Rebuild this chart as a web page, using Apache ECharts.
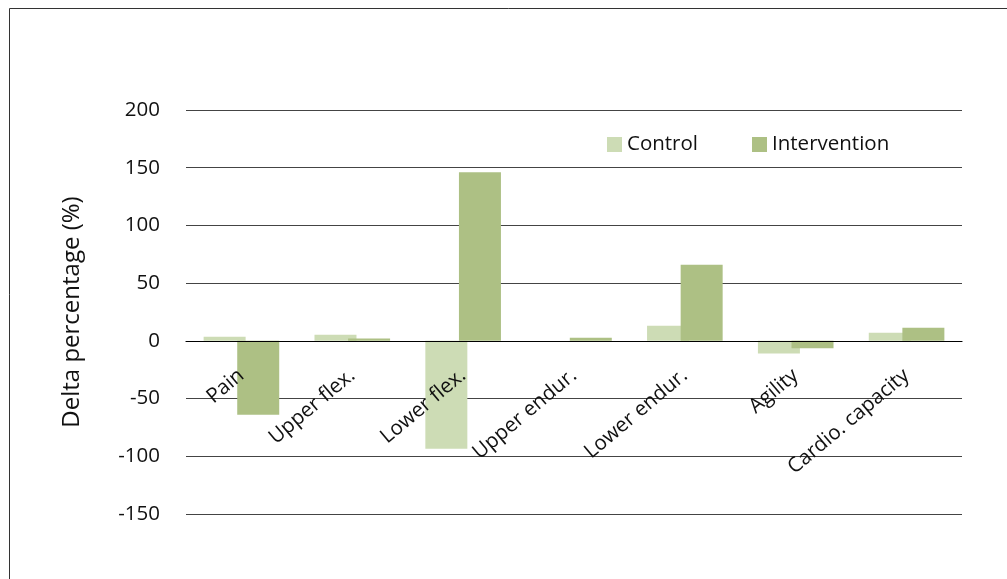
<!DOCTYPE html>
<html>
<head>
<meta charset="utf-8">
<script src="https://cdn.jsdelivr.net/npm/echarts@6/dist/echarts.min.js"></script>
<style>
html,body{margin:0;padding:0;background:#fff;}
#chart{width:1007px;height:579px;}
</style>
</head>
<body>
<div id="chart"></div>
<script>
const categories = ['Pain', 'Upper flex.', 'Lower flex.', 'Upper endur.', 'Lower endur.', 'Agility', 'Cardio. capacity'];
const controlValues = [3.5, 5.2, -93.5, 0, 13, -11, 7];
const interventionValues = [-64, 2, 146, 2.6, 66, -6.5, 11.3];
const yTicks = { min: -150, max: 200, interval: 50 };
const seriesNames = ['Control', 'Intervention'];

const FONT = '"Open Sans", sans-serif';
const GRID = { left: 186, right: 45, top: 110, bottom: 65 };
const chart = echarts.init(document.getElementById('chart'));
chart.setOption({
  animation: false,
  backgroundColor: '#ffffff',
  graphic: [{
    type: 'rect', silent: true, z: -10,
    shape: { x: 9.5, y: 8.5, width: 1200, height: 800 },
    style: { fill: 'none', stroke: '#333333', lineWidth: 1 }
  }],
  grid: Object.assign({ containLabel: false, outerBoundsMode: 'none' }, GRID),
  legend: {
    data: seriesNames,
    left: 602, top: 129,
    itemWidth: 15, itemHeight: 15, itemGap: 54,
    icon: 'rect',
    textStyle: { fontFamily: FONT, fontSize: 20.5, color: '#111' }
  },
  xAxis: {
    type: 'category',
    data: categories,
    position: 'bottom',
    offset: 0,
    z: 5,
    axisLine: { onZero: false, lineStyle: { color: '#000', width: 1.2 } },
    axisTick: { show: false },
    axisLabel: {
      interval: 0, rotate: 40, margin: 32, hideOverlap: false,
      fontFamily: FONT, fontSize: 20.5, color: '#111'
    }
  },
  yAxis: {
    type: 'value',
    min: yTicks.min, max: yTicks.max, interval: yTicks.interval,
    name: 'Delta percentage (%)',
    nameLocation: 'middle', nameGap: 102, nameRotate: 90,
    nameTextStyle: { fontFamily: FONT, fontSize: 24, color: '#111' },
    axisLine: { show: false },
    axisTick: { show: false },
    axisLabel: { fontFamily: FONT, fontSize: 20.5, color: '#111', margin: 26 },
    splitLine: { lineStyle: { color: '#444', width: 1 } }
  },
  series: [
    {
      name: seriesNames[0], type: 'bar', data: controlValues,
      barWidth: 42, barGap: '-20%',
      itemStyle: { color: '#cddcb5' }, z: 2
    },
    {
      name: seriesNames[1], type: 'bar', data: interventionValues,
      barWidth: 42,
      itemStyle: { color: '#adc084' }, z: 3
    }
  ]
});
// Move the category axis (line + labels) up to the zero line of the value axis
const zeroY = chart.convertToPixel({ yAxisIndex: 0 }, 0);
const bottomY = chart.getHeight() - GRID.bottom;
chart.setOption({ xAxis: { offset: zeroY - bottomY } });
</script>
</body>
</html>
